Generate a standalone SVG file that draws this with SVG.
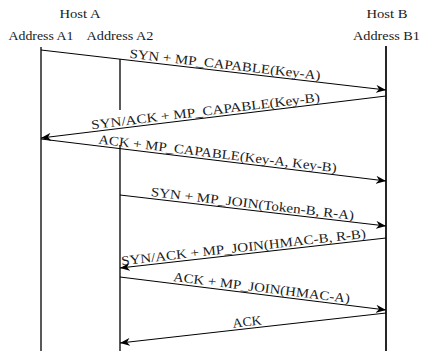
<svg xmlns="http://www.w3.org/2000/svg" width="421" height="351" viewBox="0 0 421 351" font-family="'Liberation Serif', 'Times New Roman', serif" font-size="13">
<style>
text{fill:#1a1a1a;text-anchor:middle}
.life{stroke:#000;stroke-width:1.3;fill:none}
.msg{stroke:#000;stroke-width:1;fill:none;marker-end:url(#ah)}
</style>
<defs>
<marker id="ah" markerUnits="userSpaceOnUse" viewBox="0 0 10 8" refX="10" refY="4" markerWidth="10" markerHeight="8" orient="auto">
<path d="M0,0 L10,4 L0,8 L3,4 z" fill="#000"/>
</marker>
</defs>
<rect width="421" height="351" fill="#fff"/>
<g id="hostA"><text x="80" y="18" textLength="41" lengthAdjust="spacingAndGlyphs">Host A</text></g>
<g id="hostB"><text x="387" y="18" textLength="41" lengthAdjust="spacingAndGlyphs">Host B</text></g>
<g id="addrA1">
<text x="41" y="39.5" textLength="65" lengthAdjust="spacingAndGlyphs">Address A1</text>
<line class="life" x1="41" y1="47" x2="41" y2="351"/>
</g>
<g id="addrA2">
<text x="120" y="39.5" textLength="67" lengthAdjust="spacingAndGlyphs">Address A2</text>
<line class="life" x1="120" y1="59" x2="120" y2="110"/>
<line class="life" x1="120" y1="145" x2="120" y2="351"/>
</g>
<g id="addrB1">
<text x="386.5" y="39.5" textLength="67" lengthAdjust="spacingAndGlyphs">Address B1</text>
<line class="life" x1="386" y1="46" x2="386" y2="351" style="stroke-width:1.7"/>
</g>
<g id="connectors">
<line class="msg" x1="41" y1="50" x2="386" y2="90"/>
<line class="msg" x1="386" y1="96" x2="41" y2="138"/>
<line class="msg" x1="41" y1="139" x2="386" y2="181"/>
<line class="msg" x1="120" y1="195" x2="386" y2="226"/>
<line class="msg" x1="386" y1="238" x2="120" y2="268"/>
<line class="msg" x1="120" y1="277" x2="386" y2="310"/>
<line class="msg" x1="386" y1="313" x2="120" y2="343"/>
<text transform="translate(224.5,68.8) rotate(6.61)" textLength="192" lengthAdjust="spacingAndGlyphs">SYN + MP_CAPABLE(Key-A)</text>
<text transform="translate(206,115.4) rotate(-6.94)" textLength="230" lengthAdjust="spacingAndGlyphs">SYN/ACK + MP_CAPABLE(Key-B)</text>
<text transform="translate(217,157.9) rotate(6.94)" textLength="240" lengthAdjust="spacingAndGlyphs">ACK + MP_CAPABLE(Key-A, Key-B)</text>
<text transform="translate(252,207.9) rotate(6.65)" textLength="204.5" lengthAdjust="spacingAndGlyphs">SYN + MP_JOIN(Token-B, R-A)</text>
<text transform="translate(244,251.5) rotate(-6.43)" textLength="246" lengthAdjust="spacingAndGlyphs">SYN/ACK + MP_JOIN(HMAC-B, R-B)</text>
<text transform="translate(261,292) rotate(7.07)" textLength="178" lengthAdjust="spacingAndGlyphs">ACK + MP_JOIN(HMAC-A)</text>
<text transform="translate(247.5,326.1) rotate(-6.43)" textLength="29" lengthAdjust="spacingAndGlyphs">ACK</text>
</g>
</svg>
